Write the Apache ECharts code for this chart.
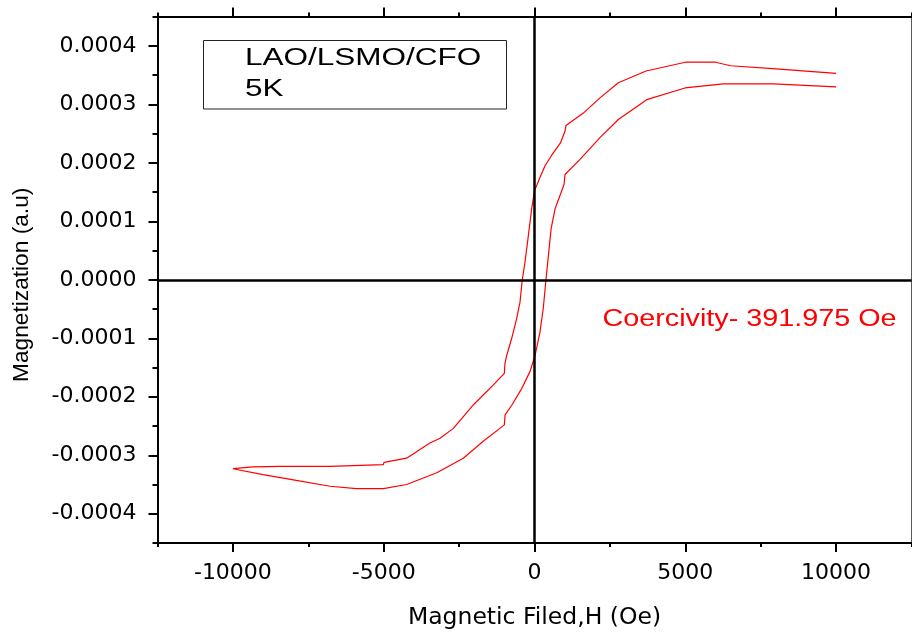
<!DOCTYPE html>
<html><head><meta charset="utf-8">
<script src="https://cdn.jsdelivr.net/npm/echarts@6/dist/echarts.min.js"></script>
<style>html,body{margin:0;padding:0;background:#fff}#c{width:912px;height:635px}</style>
</head><body><div id="c"></div>
<script>
// tick values
const xMajorTicks = [-10000, -5000, 0, 5000, 10000];
const xMinorTicks = [-12500, -7500, -2500, 2500, 7500, 12500];
const yMajorTicks = [-0.0004, -0.0003, -0.0002, -0.0001, 0, 0.0001, 0.0002, 0.0003, 0.0004];

// descending branch (+H max -> -H max)
const descendingH = [10000, 7900, 6500, 6000, 5000, 3700, 2780, 2170, 1620, 1045, 1010, 860, 570, 350, 180, 0, -95, -205, -315, -405, -480, -590, -755, -920, -980, -1000, -1370, -1700, -2030, -2690, -3130, -3470, -4240, -4990, -5010, -6780, -8440, -9330, -10000];
const descendingM = [0.000353, 0.000361, 0.000366, 0.000372, 0.000372, 0.000357, 0.000337, 0.000311, 0.000285, 0.000264, 0.000254, 0.000234, 0.000213, 0.000195, 0.000175, 0.000152, 0.000121, 0.000075, 0.000030, 0, -0.000038, -0.000066, -0.000100, -0.000129, -0.000143, -0.000160, -0.000180, -0.000197, -0.000214, -0.000254, -0.000271, -0.000279, -0.000305, -0.000312, -0.000316, -0.000319, -0.000319, -0.000320, -0.000323];

// ascending branch (-H max -> +H max)
const ascendingH = [-10000, -9000, -7900, -6780, -5900, -5010, -4240, -3240, -2360, -1700, -1000, -975, -750, -425, -150, 20, 180, 290, 380, 460, 550, 680, 980, 1010, 1510, 2170, 2780, 3720, 4990, 5050, 6260, 7920, 10000];
const ascendingM = [-0.000325, -0.000333, -0.000343, -0.000353, -0.000357, -0.000357, -0.000350, -0.000330, -0.000305, -0.000276, -0.000248, -0.000231, -0.000214, -0.000186, -0.000157, -0.000129, -0.000090, -0.000049, 0, 0.000041, 0.000087, 0.000121, 0.000163, 0.000180, 0.000206, 0.000243, 0.000274, 0.000308, 0.000328, 0.000331, 0.000335, 0.000335, 0.000330];

const legendLines = ['LAO/LSMO/CFO', '5K'];
const annotationText = 'Coercivity- 391.975 Oe';
const xTitle = 'Magnetic Filed,H (Oe)';
const yTitle = 'Magnetization (a.u)';

const loop = descendingH.map((h, i) => [h, descendingM[i]])
  .concat(ascendingH.map((h, i) => [h, ascendingM[i]]));

const labelFont = {fontFamily: 'DejaVu Sans', fontSize: 22, color: '#000'};
const xRange = {min: -12500, max: 12500, interval: 2500};
const yRange = {min: -0.00045, max: 0.00045, interval: 0.00005};

const chart = echarts.init(document.getElementById('c'));
chart.setOption({
  animation: false,
  backgroundColor: '#fff',
  grid: {left: 157.5, top: 16.6, width: 754, height: 529, containLabel: false},
  xAxis: [
    Object.assign({type: 'value', position: 'bottom', splitLine: {show: false},
      axisLine: {onZero: false, lineStyle: {color: '#000', width: 2}},
      axisTick: {length: 4, lineStyle: {color: '#000', width: 2}},
      axisLabel: {show: false},
      name: xTitle, nameLocation: 'middle', nameGap: 63,
      nameTextStyle: {fontFamily: 'DejaVu Sans', fontSize: 23.5, color: '#000'}}, xRange),
    Object.assign({type: 'value', position: 'bottom', splitLine: {show: false},
      axisLine: {show: false, onZero: false},
      axisTick: {customValues: xMajorTicks, length: 9, lineStyle: {color: '#000', width: 2}},
      axisLabel: Object.assign({customValues: xMajorTicks, margin: 19, formatter: v => String(v)}, labelFont)}, xRange),
    Object.assign({type: 'value', position: 'top', splitLine: {show: false},
      axisLine: {onZero: false, lineStyle: {color: '#000', width: 2}},
      axisTick: {length: 4, lineStyle: {color: '#000', width: 2}},
      axisLabel: {show: false}}, xRange),
    Object.assign({type: 'value', position: 'top', splitLine: {show: false},
      axisLine: {show: false, onZero: false},
      axisTick: {customValues: xMajorTicks, length: 9, lineStyle: {color: '#000', width: 2}},
      axisLabel: {show: false}}, xRange)
  ],
  yAxis: [
    Object.assign({type: 'value', position: 'left', splitLine: {show: false},
      axisLine: {onZero: false, lineStyle: {color: '#000', width: 2}},
      axisTick: {length: 5, lineStyle: {color: '#000', width: 2}},
      axisLabel: {show: false},
      name: yTitle, nameLocation: 'middle', nameGap: 124,
      nameTextStyle: {fontFamily: 'Liberation Sans', fontSize: 22.7, color: '#000', padding: [0, 10, 0, 0]}}, yRange),
    Object.assign({type: 'value', position: 'left', splitLine: {show: false},
      axisLine: {show: false, onZero: false},
      axisTick: {customValues: yMajorTicks, length: 9, lineStyle: {color: '#000', width: 2}},
      axisLabel: Object.assign({customValues: yMajorTicks, margin: 21, formatter: v => v.toFixed(4)}, labelFont)}, yRange),
    Object.assign({type: 'value', position: 'right', splitLine: {show: false},
      axisLine: {onZero: false, lineStyle: {color: '#222', width: 1.5}},
      axisTick: {show: false}, axisLabel: {show: false}}, yRange)
  ],
  series: [{
    type: 'line', xAxisIndex: 0, yAxisIndex: 0,
    data: loop, showSymbol: false, symbol: 'none', smooth: false,
    lineStyle: {color: '#ff0000', width: 1.2},
    markLine: {
      silent: true, symbol: 'none', label: {show: false},
      lineStyle: {color: '#000', width: 2.5, type: 'solid', opacity: 1},
      emphasis: {disabled: true},
      data: [{xAxis: 0}, {yAxis: 0}]
    }
  }],
  graphic: [
    {type: 'rect', shape: {x: 203.5, y: 40.5, width: 303, height: 68.5},
     style: {fill: 'none', stroke: '#222', lineWidth: 1}},
    {type: 'text', x: 245, y: 59, scaleX: 1.37,
     style: {text: legendLines[0], fontFamily: 'Liberation Sans', fontSize: 23, fill: '#000', verticalAlign: 'middle', align: 'left'}},
    {type: 'text', x: 245, y: 89.5, scaleX: 1.37,
     style: {text: legendLines[1], fontFamily: 'Liberation Sans', fontSize: 23, fill: '#000', verticalAlign: 'middle', align: 'left'}},
    {type: 'text', x: 602.5, y: 320, scaleX: 1.25,
     style: {text: annotationText, fontFamily: 'Liberation Sans', fontSize: 23, fill: '#ff0000', verticalAlign: 'middle', align: 'left'}}
  ]
});
</script></body></html>
